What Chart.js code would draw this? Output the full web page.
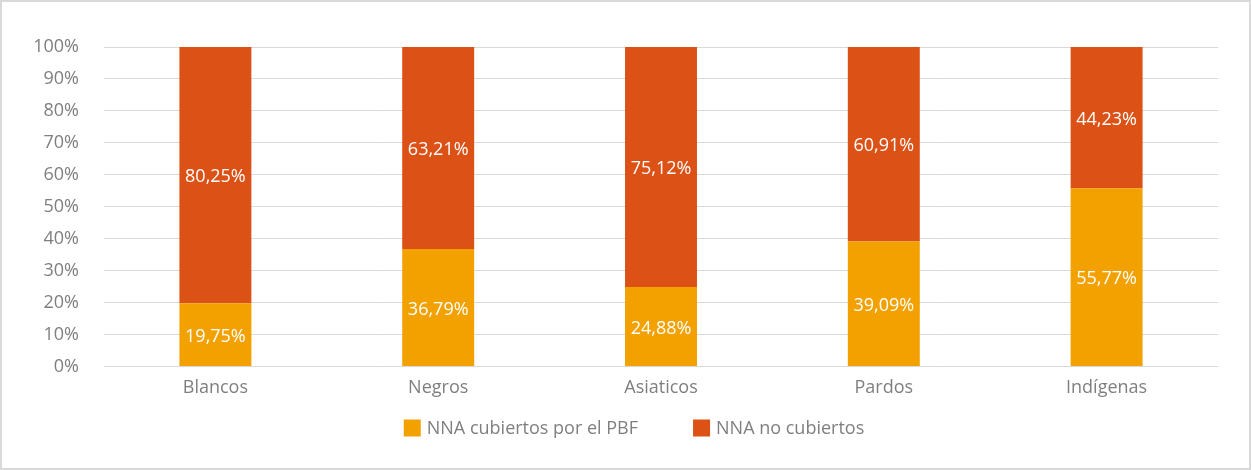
<!DOCTYPE html>
<html>
<head>
<meta charset="utf-8">
<script src="https://cdn.jsdelivr.net/npm/chart.js@4/dist/chart.umd.min.js"></script>
<style>
  html, body { margin: 0; padding: 0; background: #fff; }
  #wrap {
    position: relative;
    width: 1251px; height: 470px;
    box-sizing: border-box;
    border: 2px solid #d9d9d9;
    background: #fff;
  }
  #chart { display: block; }
</style>
</head>
<body>
<div id="wrap"><canvas id="chart" width="1247" height="466"></canvas></div>
<script>
// ─── Data ────────────────────────────────────────────────────────────────────
const categories = ['Blancos', 'Negros', 'Asiaticos', 'Pardos', 'Indígenas'];
const covered = [19.75, 36.79, 24.88, 39.09, 55.77];
const notCovered = [80.25, 63.21, 75.12, 60.91, 44.23];
const seriesNames = ['NNA cubiertos por el PBF', 'NNA no cubiertos'];
const seriesColors = ['#f2a100', '#dc5115'];
const yTicks = [0, 10, 20, 30, 40, 50, 60, 70, 80, 90, 100];

const FONT = "'Open Sans', 'Noto Sans', sans-serif";
const GRAY = '#7f7f7f';

// ─── Value labels inside the bars ────────────────────────────────────────────
const barLabels = {
  id: 'barLabels',
  afterDatasetsDraw(chart) {
    const ctx = chart.ctx;
    ctx.save();
    ctx.font = `18px ${FONT}`;
    ctx.fillStyle = '#ffffff';
    ctx.textAlign = 'center';
    ctx.textBaseline = 'middle';
    chart.data.datasets.forEach((ds, i) => {
      chart.getDatasetMeta(i).data.forEach((bar, j) => {
        const p = bar.getProps(['x', 'y', 'base'], true);
        const txt = ds.data[j].toFixed(2).replace('.', ',') + '%';
        ctx.fillText(txt, p.x, (p.y + p.base) / 2 + 2);
      });
    });
    ctx.restore();
  }
};

// ─── Bottom legend (drawn on canvas) ─────────────────────────────────────────
const bottomLegend = {
  id: 'bottomLegend',
  afterDraw(chart) {
    const ctx = chart.ctx;
    const box = 17, gap = 6, spacing = 55, cy = 426, cx = 632;
    ctx.save();
    ctx.font = `18px ${FONT}`;
    ctx.textBaseline = 'middle';
    ctx.textAlign = 'left';
    const items = chart.data.datasets.map(ds => ({
      text: ds.label, color: ds.backgroundColor, w: ctx.measureText(ds.label).width
    }));
    const total = items.reduce((s, it) => s + box + gap + it.w, 0) + spacing * (items.length - 1);
    let x = cx - total / 2;
    items.forEach(it => {
      ctx.fillStyle = it.color;
      ctx.fillRect(x, cy - box / 2, box, box);
      ctx.fillStyle = GRAY;
      ctx.fillText(it.text, x + box + gap, cy + 1);
      x += box + gap + it.w + spacing;
    });
    ctx.restore();
  }
};

new Chart(document.getElementById('chart'), {
  type: 'bar',
  data: {
    labels: categories,
    datasets: [
      { label: seriesNames[0], data: covered, backgroundColor: seriesColors[0] },
      { label: seriesNames[1], data: notCovered, backgroundColor: seriesColors[1] }
    ]
  },
  options: {
    responsive: false,
    animation: false,
    layout: { padding: { top: 45, right: 31, bottom: 58, left: 0 } },
    datasets: { bar: { categoryPercentage: 1, barPercentage: 0.323 } },
    plugins: {
      legend: { display: false },
      tooltip: { enabled: false }
    },
    scales: {
      x: {
        stacked: true,
        grid: { display: false, drawTicks: false },
        border: { display: false },
        ticks: { font: { family: FONT, size: 18 }, color: GRAY, padding: 11 }
      },
      y: {
        stacked: true,
        min: 0,
        max: 100,
        afterFit: s => { s.width = 102; },
        afterBuildTicks: s => { s.ticks = yTicks.map(v => ({ value: v })); },
        grid: { color: '#d9d9d9', lineWidth: 1, drawTicks: false },
        border: { display: false },
        ticks: {
          font: { family: FONT, size: 18 },
          color: GRAY,
          padding: 25,
          callback: v => v + '%'
        }
      }
    }
  },
  plugins: [barLabels, bottomLegend]
});
</script>
</body>
</html>
